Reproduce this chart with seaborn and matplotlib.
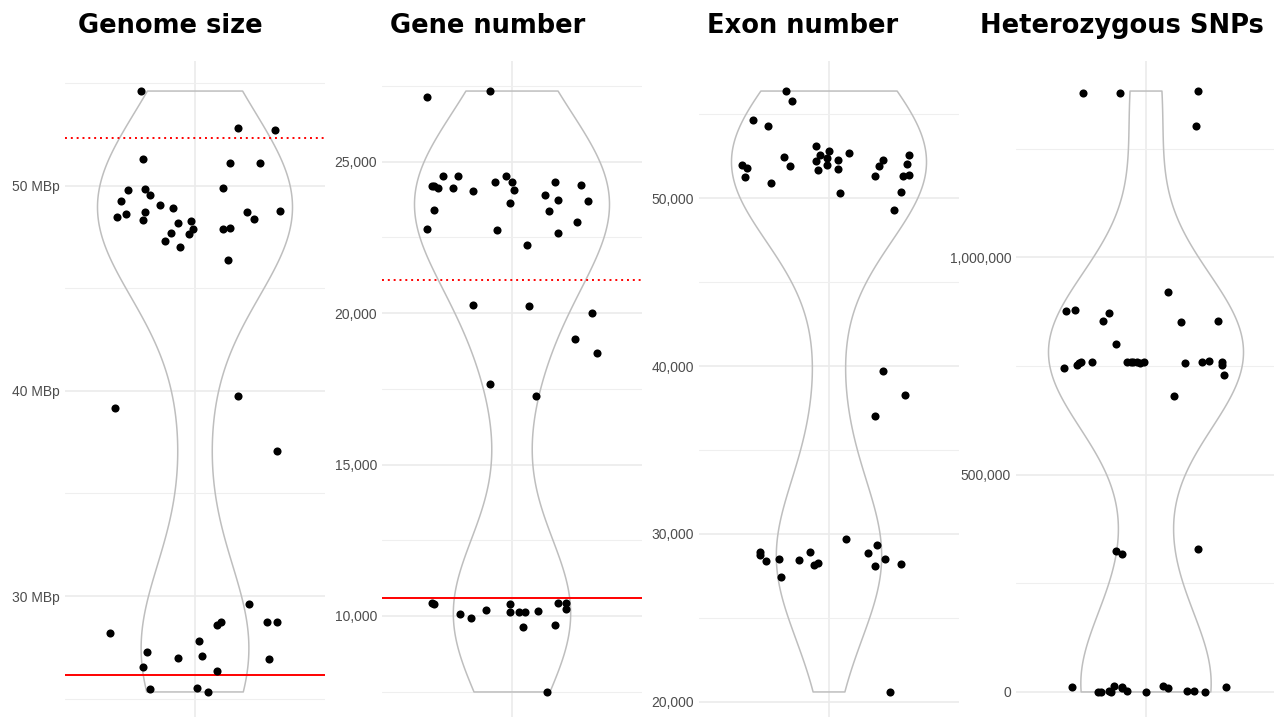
import numpy as np
import matplotlib
matplotlib.use("Agg")
import matplotlib.pyplot as plt
import seaborn as sns
from matplotlib.ticker import FuncFormatter

# ---------------- data ----------------
titles = ["Genome size", "Gene number", "Exon number", "Heterozygous SNPs"]

genome_size = [54.63, 52.81, 52.72, 51.30, 51.11, 51.14, 49.80, 49.87, 49.89, 49.58,
               49.25, 49.09, 48.93, 48.50, 48.63, 48.73, 48.34, 48.72, 48.39, 48.80,
               48.20, 48.29, 47.89, 47.66, 47.72, 47.30, 47.02, 47.92, 47.97, 46.38,
               39.76, 39.16, 37.09, 29.59, 28.71, 28.71, 28.57, 28.71, 28.21, 27.79,
               27.27, 26.99, 27.06, 26.91, 26.55, 26.36, 25.46, 25.53, 25.32]
genome_jitter = [-0.25, 0.20, 0.37, -0.24, 0.16, 0.30, -0.31, -0.23, 0.13, -0.21,
                 -0.34, -0.16, -0.10, -0.36, -0.32, -0.23, -0.24, 0.24, 0.27, 0.39,
                 -0.08, -0.02, -0.01, -0.03, -0.11, -0.14, -0.07, 0.13, 0.16, 0.15,
                 0.20, -0.37, 0.38, 0.25, 0.33, 0.38, 0.10, 0.12, -0.39, 0.02,
                 -0.22, -0.08, 0.03, 0.34, -0.24, 0.10, -0.21, 0.01, 0.06]

gene_number = [27145, 27333, 24208, 24208, 22769, 23416, 24122, 24518, 24132, 24528,
               24033, 20281, 24320, 22746, 24518, 24340, 24066, 23647, 22251, 20248,
               23901, 23363, 24340, 23746, 22657, 23000, 24231, 23693, 19997, 19159,
               18697, 17664, 17268, 10419, 10386, 10066, 9934, 10208, 10406, 10132,
               10122, 10122, 9637, 10175, 10439, 10419, 10241, 9693, 7492]
gene_jitter = [-0.39, -0.10, -0.37, -0.36, -0.39, -0.36, -0.34, -0.32, -0.27, -0.25,
               -0.18, -0.18, -0.08, -0.07, -0.03, 0.00, 0.01, -0.01, 0.07, 0.08,
               0.15, 0.17, 0.20, 0.21, 0.21, 0.30, 0.32, 0.35, 0.37, 0.29,
               0.39, -0.10, 0.11, -0.37, -0.36, -0.24, -0.19, -0.12, -0.01, -0.01,
               0.03, 0.06, 0.05, 0.12, 0.21, 0.25, 0.25, 0.20, 0.16]

exon_number = [56395, 55781, 54649, 54327, 51985, 51788, 51252, 50930, 52444, 51943,
               53135, 52241, 52599, 51669, 51985, 52420, 52801, 52283, 51728, 52700,
               50316, 51347, 51925, 52283, 52563, 52026, 51347, 51389, 50358, 49303,
               39702, 38295, 37007, 29712, 28938, 28759, 28402, 28485, 27412, 28461,
               28920, 28163, 28282, 28860, 29319, 28068, 28485, 28205, 20586]
exon_jitter = [-0.20, -0.17, -0.35, -0.28, -0.40, -0.38, -0.39, -0.27, -0.21, -0.18,
               -0.06, -0.06, -0.04, -0.05, -0.01, -0.01, 0.00, 0.04, 0.04, 0.09,
               0.05, 0.21, 0.23, 0.25, 0.37, 0.36, 0.34, 0.37, 0.33, 0.30,
               0.25, 0.35, 0.21, 0.08, -0.32, -0.32, -0.29, -0.23, -0.22, -0.14,
               -0.09, -0.07, -0.05, 0.18, 0.22, 0.21, 0.26, 0.33, 0.28]

het_snps = [1377300, 1377300, 1382600, 1301400, 919500, 877200, 878100, 871900, 854200, 851200,
            854200, 801300, 746100, 752100, 756900, 758400, 759000, 759000, 759000, 759000,
            757500, 759000, 757500, 759000, 762100, 759000, 752100, 728600, 681000, 325100,
            318100, 329000, 10800, 0, 0, 2300, 13100, 12200, 8500, 2300,
            0, 13100, 9200, 2300, 2300, 700, 12200, 759000, 1000]
het_jitter = [-0.29, -0.12, 0.24, 0.23, 0.10, -0.37, -0.33, -0.17, -0.20, 0.16,
              0.33, -0.14, -0.38, -0.32, -0.31, -0.30, -0.25, -0.09, -0.07, -0.06,
              -0.03, -0.01, 0.18, 0.26, 0.29, 0.35, 0.35, 0.36, 0.13, -0.14,
              -0.11, 0.24, -0.34, -0.22, -0.21, -0.17, -0.15, -0.11, -0.11, -0.09,
              0.00, 0.08, 0.10, 0.19, 0.22, 0.27, 0.37, -0.04, -0.16]

solid_lines = [26.15, 10584, None, None]
dotted_lines = [52.34, 21096, None, None]

major_ticks = [[30, 40, 50],
               [10000, 15000, 20000, 25000],
               [20000, 30000, 40000, 50000],
               [0, 500000, 1000000]]
minor_ticks = [[25, 35, 45, 55],
               [7500, 12500, 17500, 22500, 27500],
               [25000, 35000, 45000, 55000],
               [250000, 750000, 1250000]]

values = [genome_size, gene_number, exon_number, het_snps]
jitters = [genome_jitter, gene_jitter, exon_jitter, het_jitter]

# ---------------- style ----------------
sns.set_theme(style="white")
plt.rcParams['font.family'] = ['Liberation Sans', 'DejaVu Sans']

W, H = 1274, 717
fig = plt.figure(figsize=(W / 100, H / 100), dpi=100)
fig.patch.set_facecolor("white")

title_centers = [170.5, 487.5, 803, 1121.5]


def mbp_fmt(v, pos):
    return f"{v:g} MBp"


def comma_fmt(v, pos):
    return f"{int(round(v)):,}"


for i in range(4):
    vals = np.asarray(values[i], dtype=float)
    jit = np.asarray(jitters[i], dtype=float)
    left = (65 + 317 * i) / W
    ax = fig.add_axes([left, (H - 722) / H, 260 / W, 661 / H])
    ax.set_facecolor("white")

    sd = vals.std(ddof=1)
    q75, q25 = np.percentile(vals, [75, 25])
    bw = 0.9 * min(sd, (q75 - q25) / 1.34) / sd * len(vals) ** -0.2

    sns.violinplot(y=vals, ax=ax, fill=False, color="#BEBEBE", linewidth=1.1,
                   cut=0, bw_method=bw, width=0.9, inner=None, gridsize=400,
                   density_norm="area")
    sns.scatterplot(x=jit, y=vals, ax=ax, color="black", s=34, linewidth=0,
                    zorder=4)

    if solid_lines[i] is not None:
        ax.axhline(solid_lines[i], color="#FF0000", lw=1.4, zorder=3)
    if dotted_lines[i] is not None:
        ax.axhline(dotted_lines[i], color="#FF0000", lw=1.4,
                   ls=(0, (1, 2)), zorder=3)

    lo, hi = vals.min(), vals.max()
    pad = 0.05 * (hi - lo)
    ax.set_ylim(lo - pad, hi + pad)
    ax.set_xlim(-0.6, 0.6)

    ax.set_yticks(major_ticks[i])
    ax.set_yticks(minor_ticks[i], minor=True)
    ax.yaxis.set_major_formatter(FuncFormatter(mbp_fmt if i == 0 else comma_fmt))
    ax.set_xticks([0])
    ax.set_xticklabels([""])

    ax.grid(True, which="major", color="#EBEBEB", lw=1.2)
    ax.grid(True, which="minor", axis="y", color="#EFEFEF", lw=0.8)
    ax.set_axisbelow(True)
    ax.tick_params(axis="both", which="both", length=0)
    ax.tick_params(axis="y", labelsize=10, labelcolor="#4D4D4D", pad=3.5)
    for s in ax.spines.values():
        s.set_visible(False)
    ax.set_xlabel("")
    ax.set_ylabel("")

    fig.text(title_centers[i] / W, 1 - 33 / H, titles[i], ha="center",
             va="baseline", fontsize=18.5, fontweight="bold", color="black",
             family=["DejaVu Sans"])

fig.savefig("out.png", dpi=100, facecolor="white")
